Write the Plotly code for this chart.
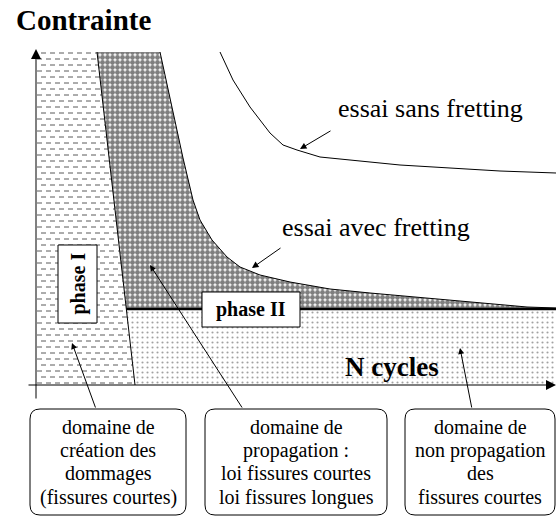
import plotly.graph_objects as go

# ---------------- data (schematic units: X = N cycles, Y = contrainte) ----------------
sans_x = [184, 197, 214, 234, 247, 261, 284, 324, 364, 414, 464, 520]
sans_y = [333, 305, 278, 252, 240, 235, 228, 224, 220, 217, 214, 212]
avec_x = [124, 147, 157, 164, 176, 191, 204, 224, 254, 294, 334, 377, 434, 491, 520]
avec_y = [333, 227, 185, 165, 145, 128, 118, 110, 103, 96, 92, 88, 83, 78, 77]
limit_x = [61, 99]          # limite phase I / phase II (top, bottom)
limit_y = [333, 0]
phase2_level = 76           # seuil de non propagation
x_end = 520
y_top = 333

box_texts = [
    ["domaine de", "création des", "dommages", "(fissures courtes)"],
    ["domaine de", "propagation :", "loi fissures courtes", "loi fissures longues"],
    ["domaine de", "non propagation", "des", "fissures courtes"],
]

FONT = "'Liberation Serif', 'Times New Roman', Times, 'DejaVu Serif', serif"


def limit_at(y):
    return limit_x[0] + (limit_x[1] - limit_x[0]) * (limit_y[0] - y) / (limit_y[0] - limit_y[1])


xb = limit_at(phase2_level)

fig = go.Figure()

# light dotted region (non propagation)
fig.add_trace(go.Scatter(
    x=[xb, x_end, x_end, limit_x[1]], y=[phase2_level, phase2_level, 0, 0],
    fill="toself", mode="none", fillcolor="white",
    fillpattern=dict(shape=".", size=5, solidity=0.14, fgcolor="#444444", bgcolor="white"),
    hoverinfo="skip", showlegend=False))

# dark dotted region (propagation)
fig.add_trace(go.Scatter(
    x=[limit_x[0]] + avec_x + [x_end, xb], y=[y_top] + avec_y + [phase2_level, phase2_level],
    fill="toself", mode="none", fillcolor="white",
    fillpattern=dict(shape=".", size=5, solidity=0.75, fgcolor="black", bgcolor="white"),
    hoverinfo="skip", showlegend=False))

# dashed region (création des dommages)
dx, dy = [], []
row = 0
yy = 2
while yy <= y_top:
    xs = 1 if row % 2 == 0 else 5
    dx += [xs, limit_at(yy), None]
    dy += [yy, yy, None]
    yy += 6
    row += 1
fig.add_trace(go.Scatter(x=dx, y=dy, mode="lines",
                         line=dict(color="#5a5a5a", width=1, dash="5px,4px"),
                         hoverinfo="skip", showlegend=False))

# curves
fig.add_trace(go.Scatter(x=sans_x, y=sans_y, mode="lines", line=dict(color="black", width=1),
                         hoverinfo="skip", showlegend=False))
fig.add_trace(go.Scatter(x=avec_x, y=avec_y, mode="lines", line=dict(color="black", width=1),
                         hoverinfo="skip", showlegend=False))
fig.add_trace(go.Scatter(x=limit_x, y=limit_y, mode="lines", line=dict(color="black", width=1),
                         hoverinfo="skip", showlegend=False))
fig.add_trace(go.Scatter(x=[xb, x_end], y=[phase2_level, phase2_level], mode="lines",
                         line=dict(color="black", width=2.5),
                         hoverinfo="skip", showlegend=False))


def rrect(x0, y0, x1, y1, r):
    return (f"M {x0+r},{y0} L {x1-r},{y0} Q {x1},{y0} {x1},{y0+r} L {x1},{y1-r} "
            f"Q {x1},{y1} {x1-r},{y1} L {x0+r},{y1} Q {x0},{y1} {x0},{y1-r} "
            f"L {x0},{y0+r} Q {x0},{y0} {x0+r},{y0} Z")


shapes = []
# phase boxes
shapes.append(dict(type="rect", x0=22, x1=61, y0=62, y1=140, xref="x", yref="y",
                   fillcolor="white", line=dict(color="black", width=1)))
shapes.append(dict(type="rect", x0=166, x1=264, y0=58, y1=93, xref="x", yref="y",
                   fillcolor="white", line=dict(color="black", width=1)))
# rounded description boxes
box_x = [(-6, 150), (169, 351), (369, 519)]
for (a, b) in box_x:
    shapes.append(dict(type="path", path=rrect(a, -130, b, -24, 10), xref="x", yref="y",
                       fillcolor="white", line=dict(color="black", width=1)))

ann = []


def arrow(x, y, ax, ay, size=1.0, head=2):
    ann.append(dict(x=x, y=y, ax=ax, ay=ay, xref="x", yref="y", axref="x", ayref="y",
                    text="", showarrow=True, arrowhead=head, arrowsize=size, arrowwidth=1,
                    arrowcolor="black", standoff=0, startstandoff=0))


# axes
arrow(0, 336, 0, -15, size=2.0)
arrow(520, 0, -9, 0, size=2.0)
# label arrows
arrow(264, 236, 296, 255, size=1.3)
arrow(216, 117, 246, 138, size=1.3)
# box arrows
arrow(36, 42, 60, -24, size=1.2)
arrow(114, 120, 207, -24, size=1.2)
arrow(424, 37, 436, -24, size=1.2)

# texts
ann.append(dict(x=-22, y=365, xref="x", yref="y", text="<b>Contrainte</b>", showarrow=False,
                xanchor="left", yanchor="middle", font=dict(family=FONT, size=29, color="black")))
ann.append(dict(x=394, y=277, xref="x", yref="y", text="essai sans fretting", showarrow=False,
                xanchor="center", yanchor="middle", font=dict(family=FONT, size=26, color="black")))
ann.append(dict(x=340, y=158, xref="x", yref="y", text="essai avec fretting", showarrow=False,
                xanchor="center", yanchor="middle", font=dict(family=FONT, size=26, color="black")))
ann.append(dict(x=356, y=18, xref="x", yref="y", text="<b>N cycles</b>", showarrow=False,
                xanchor="center", yanchor="middle", font=dict(family=FONT, size=27, color="black")))
ann.append(dict(x=215, y=75.5, xref="x", yref="y", text="<b>phase II</b>", showarrow=False,
                xanchor="center", yanchor="middle", font=dict(family=FONT, size=20, color="black")))
ann.append(dict(x=41.5, y=101, xref="x", yref="y", text="<b>phase I</b>", showarrow=False,
                textangle=-90, xanchor="center", yanchor="middle",
                font=dict(family=FONT, size=20, color="black")))

line_y = [-42, -65, -88, -112]
for (a, b), lines in zip(box_x, box_texts):
    cx = (a + b) / 2
    for t, ly in zip(lines, line_y):
        ann.append(dict(x=cx, y=ly, xref="x", yref="y", text=t, showarrow=False,
                        xanchor="center", yanchor="middle",
                        font=dict(family=FONT, size=20, color="black")))

fig.update_layout(
    width=556, height=516, margin=dict(l=0, r=0, t=0, b=0),
    plot_bgcolor="white", paper_bgcolor="white",
    font=dict(family=FONT),
    xaxis=dict(range=[-36, 520], visible=False, fixedrange=True),
    yaxis=dict(range=[-131, 385], visible=False, fixedrange=True),
    shapes=shapes, annotations=ann, showlegend=False,
)

fig.write_html("out.html", config={"displayModeBar": False})
with open("out.html", "r", encoding="utf-8") as f:
    html = f.read()
html = html.replace("<head>", "<head><style>html,body{margin:0;padding:0;overflow:hidden;}</style>", 1)
with open("out.html", "w", encoding="utf-8") as f:
    f.write(html)
